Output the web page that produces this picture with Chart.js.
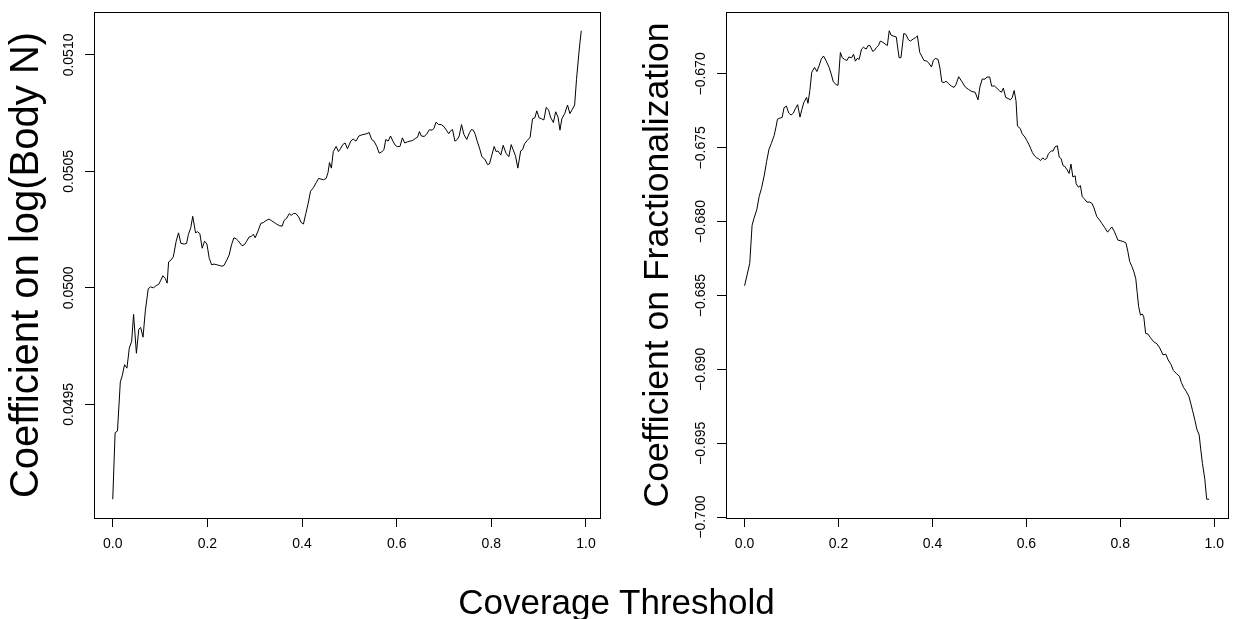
<!DOCTYPE html>
<html>
<head>
<meta charset="utf-8">
<script src="https://cdn.jsdelivr.net/npm/chart.js@4/dist/chart.umd.min.js"></script>
<style>
  html, body { margin: 0; padding: 0; background: #fff; }
  body { width: 1233px; height: 619px; position: relative; overflow: hidden; }
  canvas { position: absolute; top: 0; }
  #c1 { left: 0; }
  #c2 { left: 616px; }
  #xtitle { position: absolute; left: 0; width: 1233px; top: 584px; text-align: center;
            font-family: 'Liberation Sans', Arial, sans-serif; font-size: 35px; line-height: 35px; color: #000; }
</style>
</head>
<body>
<canvas id="c1" width="616" height="619"></canvas>
<canvas id="c2" width="617" height="619"></canvas>
<div id="xtitle">Coverage Threshold</div>
<script>
// ---- Data ----
const bodyX = [0.000,0.005,0.010,0.016,0.020,0.025,0.030,0.035,0.040,0.044,0.050,0.055,0.059,0.064,0.069,0.075,0.080,0.086,0.092,0.097,0.101,0.106,0.111,0.115,0.118,0.123,0.128,0.134,0.139,0.144,0.151,0.156,0.160,0.165,0.169,0.175,0.179,0.184,0.189,0.194,0.199,0.204,0.209,0.214,0.220,0.225,0.231,0.235,0.241,0.246,0.251,0.256,0.261,0.266,0.273,0.278,0.283,0.288,0.293,0.297,0.301,0.307,0.313,0.318,0.324,0.330,0.335,0.341,0.346,0.352,0.358,0.362,0.368,0.373,0.377,0.382,0.387,0.393,0.398,0.403,0.408,0.413,0.418,0.424,0.430,0.435,0.440,0.445,0.451,0.455,0.458,0.462,0.466,0.472,0.477,0.482,0.486,0.491,0.496,0.503,0.508,0.514,0.520,0.525,0.531,0.537,0.542,0.547,0.552,0.558,0.563,0.569,0.573,0.577,0.582,0.587,0.592,0.597,0.601,0.607,0.612,0.617,0.623,0.628,0.634,0.639,0.644,0.648,0.652,0.658,0.663,0.669,0.675,0.679,0.683,0.689,0.694,0.700,0.706,0.710,0.714,0.718,0.723,0.728,0.732,0.737,0.742,0.748,0.754,0.758,0.762,0.766,0.770,0.775,0.780,0.786,0.792,0.796,0.801,0.806,0.810,0.814,0.820,0.825,0.831,0.837,0.842,0.846,0.851,0.856,0.862,0.866,0.870,0.876,0.882,0.887,0.892,0.896,0.901,0.906,0.911,0.916,0.921,0.925,0.931,0.936,0.941,0.945,0.949,0.955,0.961,0.966,0.971,0.976,0.980,0.986,0.990];
const bodyY = [0.049092,0.049378,0.049385,0.049596,0.049622,0.049670,0.049655,0.049741,0.049770,0.049886,0.049719,0.049822,0.049830,0.049788,0.049904,0.049996,0.050004,0.050000,0.050010,0.050015,0.050030,0.050052,0.050040,0.050020,0.050111,0.050119,0.050133,0.050200,0.050236,0.050191,0.050188,0.050191,0.050230,0.050259,0.050307,0.050236,0.050241,0.050233,0.050170,0.050200,0.050188,0.050126,0.050099,0.050102,0.050099,0.050096,0.050093,0.050096,0.050119,0.050141,0.050185,0.050215,0.050210,0.050200,0.050181,0.050185,0.050200,0.050218,0.050221,0.050230,0.050215,0.050244,0.050277,0.050280,0.050289,0.050295,0.050289,0.050281,0.050274,0.050267,0.050265,0.050289,0.050300,0.050319,0.050311,0.050319,0.050319,0.050304,0.050281,0.050274,0.050319,0.050363,0.050415,0.050430,0.050452,0.050470,0.050467,0.050464,0.050470,0.050496,0.050538,0.050514,0.050585,0.050607,0.050585,0.050600,0.050615,0.050622,0.050597,0.050630,0.050639,0.050630,0.050652,0.050656,0.050659,0.050662,0.050667,0.050637,0.050630,0.050607,0.050578,0.050585,0.050593,0.050637,0.050630,0.050652,0.050630,0.050612,0.050607,0.050607,0.050644,0.050622,0.050627,0.050630,0.050633,0.050641,0.050647,0.050671,0.050652,0.050650,0.050659,0.050679,0.050677,0.050686,0.050711,0.050701,0.050701,0.050692,0.050674,0.050662,0.050674,0.050680,0.050630,0.050637,0.050652,0.050701,0.050659,0.050637,0.050667,0.050680,0.050677,0.050659,0.050630,0.050600,0.050563,0.050553,0.050529,0.050532,0.050570,0.050607,0.050585,0.050588,0.050570,0.050612,0.050578,0.050563,0.050615,0.050593,0.050567,0.050514,0.050588,0.050593,0.050618,0.050633,0.050647,0.050726,0.050730,0.050760,0.050730,0.050726,0.050721,0.050775,0.050763,0.050733,0.050710,0.050756,0.050733,0.050677,0.050726,0.050748,0.050785,0.050748,0.050766,0.050785,0.050896,0.051030,0.051104];

const fracX = [0.000,0.011,0.016,0.020,0.026,0.031,0.036,0.042,0.047,0.052,0.057,0.063,0.067,0.070,0.075,0.080,0.084,0.089,0.094,0.099,0.104,0.108,0.113,0.118,0.122,0.126,0.132,0.135,0.139,0.143,0.149,0.154,0.159,0.163,0.168,0.174,0.180,0.185,0.189,0.195,0.199,0.204,0.208,0.213,0.218,0.222,0.228,0.232,0.236,0.240,0.244,0.249,0.253,0.259,0.263,0.267,0.273,0.277,0.281,0.285,0.289,0.294,0.299,0.304,0.308,0.312,0.318,0.323,0.329,0.333,0.339,0.343,0.349,0.353,0.359,0.364,0.368,0.373,0.377,0.382,0.388,0.392,0.398,0.402,0.406,0.412,0.416,0.420,0.425,0.429,0.435,0.440,0.446,0.450,0.456,0.463,0.470,0.477,0.484,0.491,0.497,0.501,0.506,0.512,0.516,0.522,0.526,0.532,0.537,0.543,0.547,0.551,0.556,0.561,0.566,0.570,0.574,0.578,0.581,0.587,0.591,0.597,0.601,0.605,0.609,0.613,0.618,0.622,0.626,0.630,0.635,0.639,0.643,0.647,0.653,0.657,0.661,0.666,0.670,0.674,0.678,0.682,0.687,0.691,0.695,0.699,0.704,0.706,0.711,0.715,0.719,0.723,0.729,0.735,0.740,0.744,0.750,0.756,0.761,0.767,0.773,0.777,0.782,0.787,0.791,0.795,0.801,0.806,0.812,0.816,0.820,0.825,0.829,0.833,0.836,0.839,0.843,0.847,0.850,0.854,0.859,0.864,0.871,0.878,0.884,0.891,0.897,0.902,0.908,0.913,0.920,0.926,0.930,0.935,0.940,0.946,0.950,0.954,0.959,0.963,0.968,0.971,0.975,0.980,0.984,0.989];
const fracY = [-0.684336,-0.682816,-0.680243,-0.679775,-0.679191,-0.678302,-0.677741,-0.676852,-0.675917,-0.675098,-0.674701,-0.674163,-0.673578,-0.673064,-0.672993,-0.672947,-0.672292,-0.672175,-0.672643,-0.672783,-0.672643,-0.672362,-0.672081,-0.672923,-0.672409,-0.671941,-0.671590,-0.671988,-0.671123,-0.669883,-0.669556,-0.669836,-0.669415,-0.669018,-0.668784,-0.669135,-0.669556,-0.670070,-0.670538,-0.670725,-0.670772,-0.668550,-0.668901,-0.669018,-0.669088,-0.668854,-0.668901,-0.668667,-0.669135,-0.668948,-0.669018,-0.668316,-0.668199,-0.668316,-0.668082,-0.668082,-0.668480,-0.668386,-0.668199,-0.668082,-0.667778,-0.667848,-0.667965,-0.668082,-0.667077,-0.667381,-0.667451,-0.667498,-0.668901,-0.668901,-0.667264,-0.667311,-0.667685,-0.667778,-0.667638,-0.667544,-0.667428,-0.668550,-0.668784,-0.669088,-0.669135,-0.669252,-0.669532,-0.669088,-0.668948,-0.669018,-0.669602,-0.670538,-0.670585,-0.670491,-0.670678,-0.670819,-0.670912,-0.670725,-0.670187,-0.670538,-0.670889,-0.671052,-0.671193,-0.671240,-0.671754,-0.670889,-0.670351,-0.670351,-0.670210,-0.670210,-0.670819,-0.670819,-0.670959,-0.671146,-0.671240,-0.670959,-0.671590,-0.671660,-0.671754,-0.671590,-0.671123,-0.671824,-0.673531,-0.673695,-0.674046,-0.674280,-0.674514,-0.674747,-0.675028,-0.675332,-0.675566,-0.675683,-0.675730,-0.675870,-0.675683,-0.675800,-0.675730,-0.675402,-0.675215,-0.675215,-0.674934,-0.674864,-0.675636,-0.675730,-0.676197,-0.676267,-0.676501,-0.676735,-0.676104,-0.676969,-0.676899,-0.677437,-0.677670,-0.677554,-0.678302,-0.678442,-0.678676,-0.678676,-0.678770,-0.679074,-0.679658,-0.679892,-0.680126,-0.680407,-0.680711,-0.680547,-0.680360,-0.680640,-0.680944,-0.681249,-0.681295,-0.681342,-0.681436,-0.682000,-0.682699,-0.683049,-0.683400,-0.683868,-0.684803,-0.685739,-0.686323,-0.686253,-0.686440,-0.687563,-0.687610,-0.687844,-0.688124,-0.688265,-0.688546,-0.689014,-0.688967,-0.689364,-0.689668,-0.690066,-0.690300,-0.690463,-0.690884,-0.691235,-0.691469,-0.691820,-0.692287,-0.692802,-0.693457,-0.694041,-0.694439,-0.695328,-0.696380,-0.697433,-0.698789,-0.698789];

const xTickStep = 0.2;
const bodyTickStep = 0.0005;
const fracTickStep = 0.005;
const bodyTitle = 'Coefficient on log(Body N)';
const fracTitle = 'Coefficient on Fractionalization';

// ---- helpers ----
const FONT = "'Liberation Sans', Arial, sans-serif";
function rRange(arr) { // R's default 4% axis extension
  const lo = Math.min(...arr), hi = Math.max(...arr), d = (hi - lo) * 0.04;
  return [lo - d, hi + d];
}
const boxPlugin = {
  id: 'rbox',
  afterDraw(chart) {
    const a = chart.chartArea, ctx = chart.ctx;
    ctx.save();
    ctx.strokeStyle = '#000'; ctx.lineWidth = 1;
    ctx.strokeRect(Math.round(a.left) + 0.5, Math.round(a.top) + 0.5,
                   Math.round(a.right - a.left), Math.round(a.bottom - a.top));
    ctx.restore();
  }
};

function makeChart(id, xs, ys, step, decimals, title, geo) {
  const [xmin, xmax] = rRange(xs);
  const [ymin, ymax] = rRange(ys);
  const pts = xs.map((x, i) => ({x, y: ys[i]}));
  return new Chart(document.getElementById(id), {
    type: 'line',
    data: { datasets: [{ data: pts, borderColor: '#000', borderWidth: 1, pointRadius: 0, tension: 0, fill: false }] },
    plugins: [boxPlugin],
    options: {
      responsive: false, animation: false, devicePixelRatio: 1,
      layout: { padding: { left: 0, top: geo.top, right: geo.right, bottom: 0 } },
      plugins: { legend: { display: false }, tooltip: { enabled: false } },
      scales: {
        x: {
          type: 'linear', min: xmin, max: xmax,
          afterFit(s) { s.height = geo.xh; },
          border: { display: false },
          grid: { display: true, drawOnChartArea: false, drawTicks: true, tickLength: 9, color: '#000', lineWidth: 1 },
          ticks: { stepSize: xTickStep, includeBounds: false, padding: 9, color: '#000',
                   font: { family: FONT, size: 14 }, maxRotation: 0, minRotation: 0,
                   callback: v => v.toFixed(1) }
        },
        y: {
          type: 'linear', min: ymin, max: ymax,
          afterFit(s) { s.width = geo.yw; },
          border: { display: false },
          grid: { display: true, drawOnChartArea: false, drawTicks: true, tickLength: 9, color: '#000', lineWidth: 1 },
          ticks: { stepSize: step, includeBounds: false, padding: -6, color: '#000', crossAlign: 'center',
                   minRotation: 90, maxRotation: 90,
                   font: { family: FONT, size: 14 },
                   callback: v => v.toFixed(decimals).replace('-', '\u2212') },
          title: { display: true, text: title, color: '#000',
                   font: { family: FONT, size: geo.tsize, lineHeight: 1 },
                   padding: { top: geo.tpad, bottom: 0 } }
        }
      }
    }
  });
}

makeChart('c1', bodyX, bodyY, bodyTickStep, 4, bodyTitle, { top: 12, right: 16, xh: 101, yw: 94, tpad: 7, tsize: 40 });
makeChart('c2', fracX, fracY, fracTickStep, 3, fracTitle, { top: 12, right: 2, xh: 101, yw: 110, tpad: 24, tsize: 35.5 });
</script>
</body>
</html>
